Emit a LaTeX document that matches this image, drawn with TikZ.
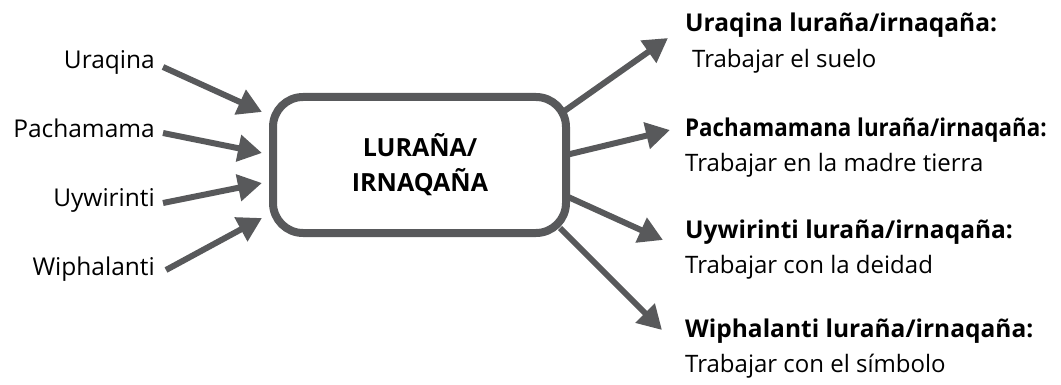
\documentclass[tikz,border=0pt]{standalone}
\usepackage{fontspec}
\setmainfont{Open Sans}
\usetikzlibrary{arrows.meta}
\definecolor{ag}{HTML}{58595B}
\tikzset{
  conn/.style={draw=ag, line width=6pt, -{Triangle[length=24pt,width=26pt]}},
  lab/.style={font=\fontsize{24.5}{28}\selectfont, inner sep=0pt, anchor=base east},
  rhead/.style={font=\fontsize{24.5}{28}\selectfont\bfseries, inner sep=0pt, anchor=base west},
  rtext/.style={font=\fontsize{24}{28}\selectfont, inner sep=0pt, anchor=base west},
}
\begin{document}
\begin{tikzpicture}[x=1pt,y=-1pt]
\useasboundingbox (0,0) rectangle (1061,385);
\draw[ag, line width=8pt, rounded corners=30pt, fill=white] (273,97) rectangle (566,233);
\node[font=\fontsize{25}{35}\selectfont\bfseries, inner sep=0pt, anchor=base] (c) at (420,157) {LURAÑA/};
\node[font=\fontsize{25}{35}\selectfont\bfseries, inner sep=0pt, anchor=base] (c2) at (420,192) {IRNAQAÑA};
% left labels
\node[lab] (l1) at (155,69) {Uraqina};
\node[lab] (l2) at (155,138) {Pachamama};
\node[lab] (l3) at (155,207) {Uywirinti};
\node[lab] (l4) at (155,275) {Wiphalanti};
\coordinate (t1) at (262,112);
\coordinate (t2) at (262,153);
\coordinate (t3) at (262,183);
\coordinate (t4) at (262,218);
\coordinate (s1) at (163,67);
\coordinate (s2) at (163,133);
\coordinate (s3) at (163,203);
\coordinate (s4) at (166,270);
\draw[conn] (s1) -- (t1);
\draw[conn] (s2) -- (t2);
\draw[conn] (s3) -- (t3);
\draw[conn] (s4) -- (t4);
% right
\coordinate (r1) at (563,112);
\coordinate (r2) at (566,155);
\coordinate (r3) at (566,196);
\coordinate (r4) at (560,228);
\coordinate (u1) at (668,38);
\coordinate (u2) at (670,130);
\coordinate (u3) at (663,240);
\coordinate (u4) at (662,330);
\draw[conn] (r1) -- (u1);
\draw[conn] (r2) -- (u2);
\draw[conn] (r3) -- (u3);
\draw[conn] (r4) -- (u4);
\node[rhead] (h1) at (685,32) {Uraqina luraña/irnaqaña:};
\node[rtext] (d1) at (692,68) {Trabajar el suelo};
\node[rhead] (h2) at (685,137) {\scalebox{0.912}[1]{Pachamamana luraña/irnaqaña:}};
\node[rtext] (d2) at (685,172) {Trabajar en la madre tierra};
\node[rhead] (h3) at (685,238) {Uywirinti luraña/irnaqaña:};
\node[rtext] (d3) at (685,273) {Trabajar con la deidad};
\node[rhead] (h4) at (685,337) {Wiphalanti luraña/irnaqaña:};
\node[rtext] (d4) at (685,372) {Trabajar con el símbolo};
\end{tikzpicture}
\end{document}
